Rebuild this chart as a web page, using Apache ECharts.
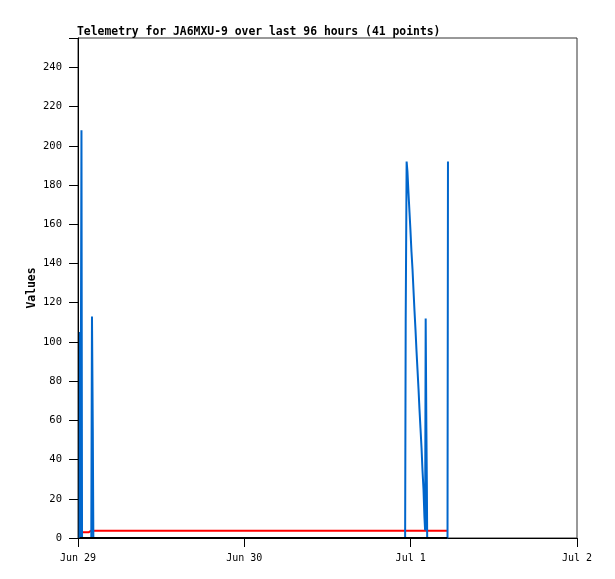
<!DOCTYPE html>
<html>
<head>
<meta charset="utf-8">
<script src="https://cdn.jsdelivr.net/npm/echarts@6/dist/echarts.min.js"></script>
<style>html,body{margin:0;padding:0;background:#fff}#c{width:615px;height:579px}</style>
</head>
<body>
<div id="c"></div>
<script>
// Packet timestamps (UTC, 2024) as "MM-DD HH:MM"
var times = [
  '06-29 00:14','06-29 00:17','06-29 00:21','06-29 00:30','06-29 00:35','06-29 00:48','06-29 01:09','06-29 01:31',
  '06-29 01:45','06-29 01:55','06-29 02:01','06-29 02:08','06-29 02:13',
  '06-30 23:12','06-30 23:17','06-30 23:25','06-30 23:32','06-30 23:41','06-30 23:50','06-30 23:58',
  '07-01 00:07','07-01 00:16','07-01 00:24','07-01 00:33','07-01 00:42','07-01 00:50','07-01 00:59',
  '07-01 01:08','07-01 01:16','07-01 01:25','07-01 01:34','07-01 01:42','07-01 01:51','07-01 01:59',
  '07-01 02:05','07-01 02:10','07-01 02:16','07-01 02:20','07-01 02:23','07-01 05:19','07-01 05:23'
];
var blueValues = [
  0,105,0,208,0,0,0,0,
  0,0,113,56,0,
  0,112,192,187,176,166,157,
  146,137,127,116,106,96,86,
  76,66,56,46,35,25,11,
  4,112,56,28,0,0,192
];
var redValues = [
  2.9,2.9,2.9,2.9,2.9,2.9,2.9,2.9,
  3.7,3.7,3.7,3.7,3.7,
  3.7,3.7,3.7,3.7,3.7,3.7,3.7,
  3.7,3.7,3.7,3.7,3.7,3.7,3.7,
  3.7,3.7,3.7,3.7,3.7,3.7,3.7,
  3.7,3.7,3.7,3.7,3.7,3.7,3.7
];
var blackValues = times.map(function(){ return 0; });
var yTicks = [0,20,40,60,80,100,120,140,160,180,200,220,240];
var monthNames = ['Jan','Feb','Mar','Apr','May','Jun','Jul','Aug','Sep','Oct','Nov','Dec'];

function toMs(s){
  var p = s.split(' '), d = p[0].split('-'), t = p[1].split(':');
  return Date.UTC(2024, +d[0]-1, +d[1], +t[0], +t[1]);
}
function pairs(vals){ return times.map(function(t,i){ return [toMs(t), vals[i]]; }); }

var DAY = 86400000;
var xMin = Date.UTC(2024,5,29), xMax = Date.UTC(2024,6,2);
var mono = 'DejaVu Sans Mono';

var chart = echarts.init(document.getElementById('c'), null, {renderer:'canvas'});
chart.setOption({
  animation: false,
  backgroundColor: '#fff',
  title: {
    text: 'Telemetry for JA6MXU-9 over last 96 hours (41 points)',
    left: 72, top: 22,
    textStyle: {fontFamily: mono, fontSize: 11.4, fontWeight: 'bold', color: '#000'}
  },
  grid: {left: 78, right: 38, top: 38, bottom: 41, show: true, borderColor: '#333', borderWidth: 1, containLabel: false},
  xAxis: {
    type: 'value', min: xMin, max: xMax, interval: DAY,
    axisLine: {show: true, onZero: false, lineStyle: {color: '#000', width: 1}},
    axisTick: {show: true, length: 9, lineStyle: {color: '#000'}},
    splitLine: {show: false},
    axisLabel: {
      margin: 15, fontFamily: mono, fontSize: 10, color: '#000',
      formatter: function(v){ var d = new Date(v); return monthNames[d.getUTCMonth()] + ' ' + d.getUTCDate(); }
    }
  },
  yAxis: {
    type: 'value', min: 0, max: 255, interval: 20,
    name: 'Values', nameLocation: 'middle', nameGap: 40, nameRotate: 90, nameMoveOverlap: false,
    nameTextStyle: {fontFamily: mono, fontSize: 11.4, fontWeight: 'bold', color: '#000'},
    axisLine: {show: true, lineStyle: {color: '#000', width: 1}},
    axisTick: {show: true, length: 9, lineStyle: {color: '#000'}},
    splitLine: {show: false},
    axisLabel: {
      margin: 16, fontFamily: mono, fontSize: 10.5, color: '#000',
      formatter: function(v){ return yTicks.indexOf(v) >= 0 ? String(v) : ''; }
    }
  },
  series: [
    {type: 'line', data: pairs(redValues), showSymbol: false, lineStyle: {color: '#ff0000', width: 2}, itemStyle: {color: '#ff0000'}, z: 2},
    {type: 'line', data: pairs(blueValues), showSymbol: false, lineStyle: {color: '#0066cc', width: 2}, itemStyle: {color: '#0066cc'}, z: 3},
    {type: 'line', data: pairs(blackValues), showSymbol: false, lineStyle: {color: '#000000', width: 2}, itemStyle: {color: '#000'}, z: 4}
  ]
});
</script>
</body>
</html>
